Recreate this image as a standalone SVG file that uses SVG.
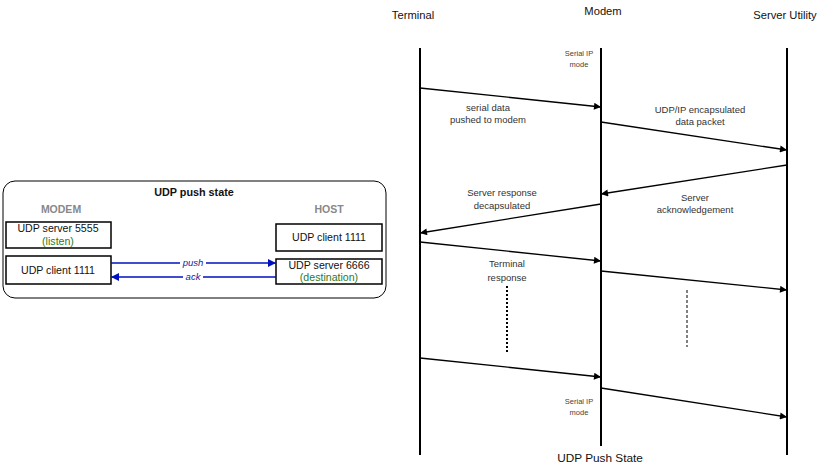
<svg xmlns="http://www.w3.org/2000/svg" width="828" height="469" viewBox="0 0 828 469">
<defs>
<marker id="ah" viewBox="0 0 10 10" refX="10" refY="5" markerWidth="10" markerHeight="7" markerUnits="userSpaceOnUse" orient="auto"><path d="M0,0 L10,5 L0,10 z" fill="#000"/></marker>
<marker id="bh" viewBox="0 0 10 10" refX="10" refY="5" markerWidth="12" markerHeight="8" markerUnits="userSpaceOnUse" orient="auto"><path d="M0,0 L10,5 L0,10 z" fill="#0010c0"/></marker>
<style>
text{font-family:"Liberation Sans",Arial,sans-serif;fill:#111}
.hd{font-size:11.2px}
.lb{font-size:9.5px;text-anchor:middle;fill:#333}
.sm{font-size:7.5px;text-anchor:middle;fill:#444}
.life{stroke:#000;stroke-width:2}
.msg{stroke:#000;stroke-width:1.3;fill:none;marker-end:url(#ah)}
.box{fill:#fff;stroke:#000;stroke-width:1.5}
.bt{font-size:10.6px;text-anchor:middle}
.gr{font-size:10.6px;text-anchor:middle;fill:#2a7a2a}
.cap{font-size:10.5px;font-weight:bold;text-anchor:middle;fill:#888}
.blue{stroke:#0010c0;stroke-width:1.5;marker-end:url(#bh)}
.bl{font-size:9.5px;font-style:italic;text-anchor:middle;fill:#1a1aa0}
</style>
</defs>
<g id="udp-push-state">
<rect x="3" y="181" width="383" height="117" rx="12" fill="#fff" stroke="#000" stroke-width="1"/>
<text x="194" y="196" style="font-size:10.8px;font-weight:bold" text-anchor="middle">UDP push state</text>
<text class="cap" x="61" y="213">MODEM</text>
<text class="cap" x="329" y="213">HOST</text>
</g>
<g id="modem-server">
<rect class="box" x="6" y="222" width="105" height="26"/>
<text class="bt" x="58" y="232">UDP server 5555</text>
<text class="gr" x="58" y="245">(listen)</text>
</g>
<g id="modem-client">
<rect class="box" x="6" y="256" width="105" height="28"/>
<text class="bt" x="58" y="274">UDP client 1111</text>
</g>
<g id="host-client">
<rect class="box" x="276" y="224" width="106" height="27"/>
<text class="bt" x="329" y="241">UDP client 1111</text>
</g>
<g id="host-server">
<rect class="box" x="276" y="259" width="106" height="25"/>
<text class="bt" x="329" y="269">UDP server 6666</text>
<text class="gr" x="329" y="281">(destination)</text>
</g>
<g id="udp-connectors">
<line class="blue" x1="111" y1="263" x2="276" y2="263"/>
<line class="blue" x1="276" y1="277" x2="111" y2="277"/>
<rect x="180" y="257" width="26" height="10" fill="#fff"/>
<rect x="183" y="271" width="20" height="10" fill="#fff"/>
<text class="bl" x="193" y="266">push</text>
<text class="bl" x="193" y="280">ack</text>
</g>
<g id="terminal">
<text class="hd" x="413" y="19" text-anchor="middle">Terminal</text>
<line class="life" x1="420" y1="48" x2="420" y2="455"/>
</g>
<g id="modem">
<text class="hd" x="603" y="15" text-anchor="middle">Modem</text>
<line class="life" x1="601" y1="48" x2="601" y2="446"/>
<text class="sm" x="579" y="56">Serial IP</text>
<text class="sm" x="579" y="67">mode</text>
<text class="sm" x="579" y="404">Serial IP</text>
<text class="sm" x="579" y="415">mode</text>
</g>
<g id="server-utility">
<text class="hd" x="785" y="19" text-anchor="middle">Server Utility</text>
<line class="life" x1="787" y1="48" x2="787" y2="455"/>
</g>
<g id="messages">
<line class="msg" x1="420" y1="88" x2="601" y2="107"/>
<line class="msg" x1="601" y1="122" x2="787" y2="150"/>
<line class="msg" x1="787" y1="165" x2="601" y2="194"/>
<line class="msg" x1="601" y1="204" x2="420" y2="233"/>
<line class="msg" x1="420" y1="242" x2="601" y2="261"/>
<line class="msg" x1="601" y1="271" x2="787" y2="290"/>
<line class="msg" x1="420" y1="358" x2="601" y2="377"/>
<line class="msg" x1="601" y1="388" x2="787" y2="417"/>
<line x1="507" y1="286" x2="507" y2="354" stroke="#000" stroke-width="2" stroke-dasharray="2,2"/>
<line x1="687" y1="290" x2="687" y2="347" stroke="#000" stroke-width="1" stroke-dasharray="3,2"/>
<text class="lb" x="488" y="111">serial data</text>
<text class="lb" x="488" y="123">pushed to modem</text>
<text class="lb" x="700" y="113">UDP/IP encapsulated</text>
<text class="lb" x="700" y="125">data packet</text>
<text class="lb" x="502" y="196">Server response</text>
<text class="lb" x="502" y="209">decapsulated</text>
<text class="lb" x="695" y="201">Server</text>
<text class="lb" x="695" y="213">acknowledgement</text>
<text class="lb" x="507" y="267">Terminal</text>
<text class="lb" x="507" y="281">response</text>
</g>
<text x="600" y="462" text-anchor="middle" style="font-size:11.8px">UDP Push State</text>
</svg>
